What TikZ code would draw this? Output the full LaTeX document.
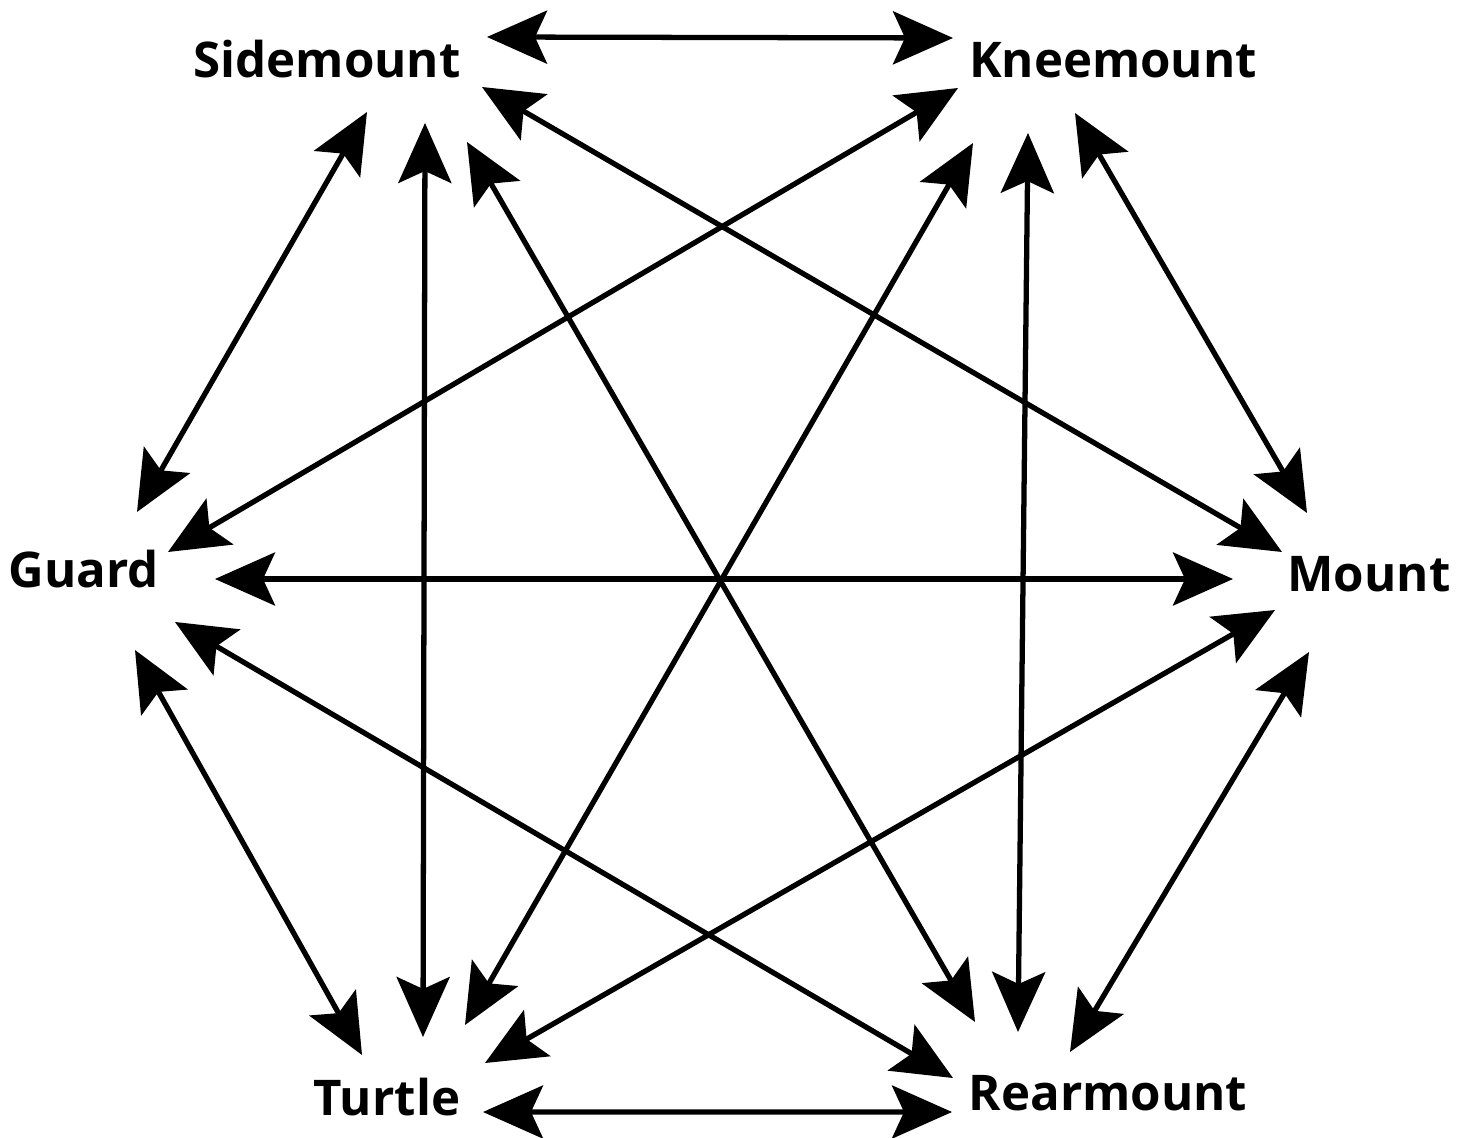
\documentclass[tikz,border=0pt]{standalone}
\usepackage{fontspec}
\newfontfamily\posfont{Open Sans}
\usetikzlibrary{arrows.meta,calc}
\definecolor{ink}{HTML}{000000}

\begin{document}
\begin{tikzpicture}[x=1cm,y=1cm,
  position/.style={text=ink,font=\posfont\bfseries\fontsize{14}{17}\selectfont,
    anchor=base,inner sep=0pt},
  link/.style={draw=ink,line width=1.5pt,
    {Stealth[length=6mm,width=5.3mm,inset=1.2mm]}-{Stealth[length=6mm,width=5.3mm,inset=1.2mm]}}
]
\useasboundingbox (0,0) rectangle (14.67,11.37);
% the six positions
\node[position] (side) at (3.27,10.59) {Sidemount};
\node[position] (knee) at (11.13,10.59) {Kneemount};
\node[position] (guard) at (0.84,5.49) {Guard};
\node[position] (mount) at (13.69,5.45) {Mount};
\node[position] (turtle) at (3.87,0.22) {Turtle};
\node[position] (rear) at (11.08,0.27) {Rearmount};
% outer ring
\draw[link] ($(side.base)+(1.60,0.41)$)--($(knee.base)+(-1.60,0.40)$);
\draw[link] ($(knee.base)+(-0.38,-0.35)$)--($(mount.base)+(-0.62,0.79)$);
\draw[link] ($(mount.base)+(-0.60,-0.60)$)--($(rear.base)+(-0.38,0.58)$);
\draw[link] ($(rear.base)+(-1.56,-0.02)$)--($(turtle.base)+(0.96,0.03)$);
\draw[link] ($(turtle.base)+(-0.25,0.60)$)--($(guard.base)+(0.51,-0.62)$);
\draw[link] ($(guard.base)+(0.53,0.76)$)--($(side.base)+(0.40,-0.34)$);
% diagonals
\draw[link] ($(side.base)+(1.55,-0.09)$)--($(mount.base)+(-0.87,0.40)$);
\draw[link] ($(side.base)+(0.98,-0.45)$)--($(turtle.base)+(0.36,0.78)$);
\draw[link] ($(side.base)+(1.40,-0.64)$)--($(rear.base)+(-1.33,0.88)$);
\draw[link] ($(knee.base)+(-1.55,-0.10)$)--($(guard.base)+(0.84,0.36)$);
\draw[link] ($(knee.base)+(-1.40,-0.65)$)--($(turtle.base)+(0.78,0.90)$);
\draw[link] ($(knee.base)+(-0.85,-0.55)$)--($(rear.base)+(-0.90,0.78)$);
\draw[link] ($(guard.base)+(1.31,0.09)$)--($(mount.base)+(-1.36,0.13)$);
\draw[link] ($(guard.base)+(0.91,-0.34)$)--($(rear.base)+(-1.55,0.32)$);
\draw[link] ($(turtle.base)+(0.98,0.52)$)--($(mount.base)+(-0.94,-0.18)$);
\end{tikzpicture}
\end{document}
